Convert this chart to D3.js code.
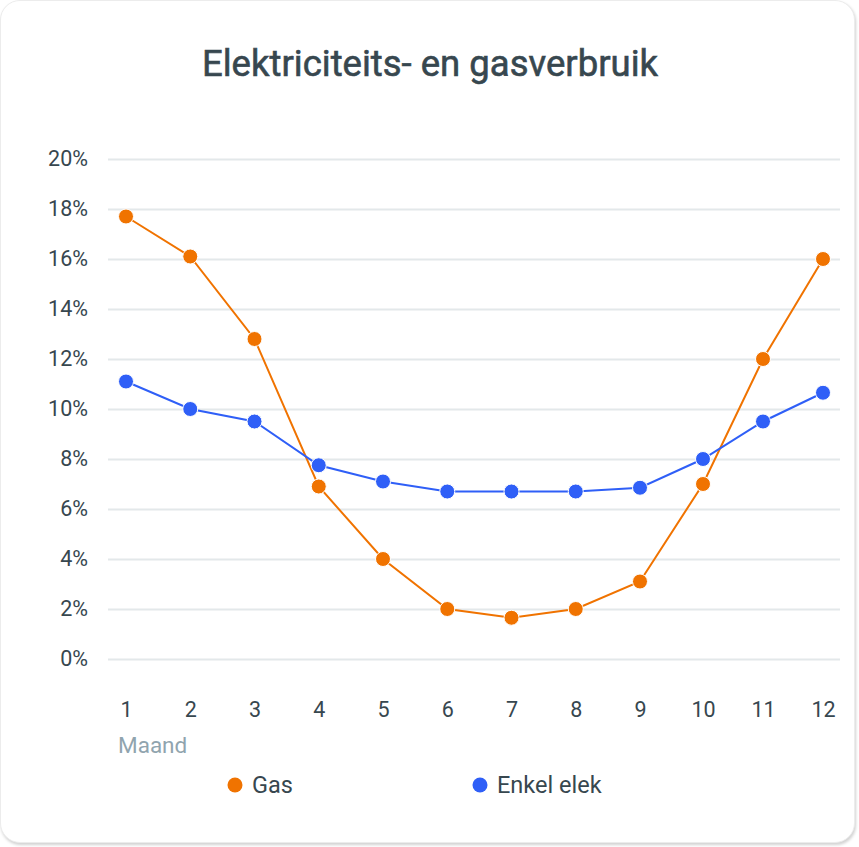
<!DOCTYPE html>
<html>
<head>
<meta charset="utf-8">
<script src="https://cdn.jsdelivr.net/npm/d3@7"></script>
<style>
  html, body { margin: 0; padding: 0; background: #ffffff; }
  #card {
    position: absolute; left: 0; top: 0; width: 855px; height: 843px;
    background: #fff; border-radius: 20px; box-sizing: border-box;
    border: 1px solid #ececec;
    box-shadow: 1px 2px 3px rgba(0,0,0,0.18);
  }
  svg { position: absolute; left: 0; top: 0; font-family: Roboto, "Noto Sans", sans-serif; }
</style>
</head>
<body>
<div id="card"></div>
<svg id="chart" width="859" height="847"></svg>
<script>
const title = "Elektriciteits- en gasverbruik";
const months = [1, 2, 3, 4, 5, 6, 7, 8, 9, 10, 11, 12];
const gas = [17.7, 16.1, 12.8, 6.9, 4.0, 2.0, 1.65, 2.0, 3.1, 7.0, 12.0, 16.0];
const elec = [11.1, 10.0, 9.5, 7.75, 7.1, 6.7, 6.7, 6.7, 6.85, 8.0, 9.5, 10.65];
const yTicks = [0, 2, 4, 6, 8, 10, 12, 14, 16, 18, 20];
const seriesNames = ["Gas", "Enkel elek"];
const seriesColors = ["#f07300", "#2f5ff7"];
const xAxisTitle = "Maand";

const svg = d3.select("#chart");
const x = d3.scaleLinear().domain([1, 9, 10, 12]).range([126, 640, 703, 823]);
const y = d3.scaleLinear().domain([0, 20]).range([659, 159]);

svg.append("text").attr("x", 430).attr("y", 76).attr("text-anchor", "middle")
  .attr("font-size", 36.5).attr("font-weight", 400).attr("fill", "#37474f")
  .attr("stroke", "#37474f").attr("stroke-width", 0.6).text(title);

// grid + y labels
const yAxis = d3.axisLeft(y).tickValues(yTicks).tickSize(-(840 - 108)).tickFormat(d => d + "%").tickPadding(20);
const gy = svg.append("g").attr("transform", "translate(108,0)").call(yAxis);
gy.select(".domain").remove();
gy.selectAll(".tick line").attr("stroke", "#e3e8ea").attr("stroke-width", 2);
gy.selectAll(".tick text").attr("font-size", 21.5).attr("fill", "#37474f").attr("font-family", "Roboto, sans-serif");

// x labels
const xAxis = d3.axisBottom(x).tickValues(months).tickSize(0).tickFormat(d3.format("d")).tickPadding(0);
const gx = svg.append("g").attr("transform", "translate(0,717)").call(xAxis);
gx.select(".domain").remove();
gx.selectAll(".tick text").attr("dy", 0).attr("font-size", 21.5).attr("fill", "#37474f").attr("font-family", "Roboto, sans-serif");

svg.append("text").attr("x", 118).attr("y", 753).attr("font-size", 22.5).attr("fill", "#90a4ae").text(xAxisTitle);

const series = [gas, elec];
const line = d3.line().x((d, i) => x(months[i])).y(d => y(d));
series.forEach((s, k) => {
  svg.append("path").datum(s).attr("d", line).attr("fill", "none")
    .attr("stroke", seriesColors[k]).attr("stroke-width", 2);
});
series.forEach((s, k) => {
  svg.append("g").selectAll("circle").data(s).join("circle")
    .attr("cx", (d, i) => x(months[i])).attr("cy", d => y(d)).attr("r", 7.5)
    .attr("fill", seriesColors[k]).attr("stroke", "#fff").attr("stroke-width", 1);
});

// legend
const legendX = [235, 480];
seriesNames.forEach((n, k) => {
  svg.append("circle").attr("cx", legendX[k]).attr("cy", 785).attr("r", 7.5).attr("fill", seriesColors[k]);
  svg.append("text").attr("x", legendX[k] + 17).attr("y", 793).attr("font-size", 23.5)
    .attr("fill", "#37474f").text(n);
});
</script>
</body>
</html>
